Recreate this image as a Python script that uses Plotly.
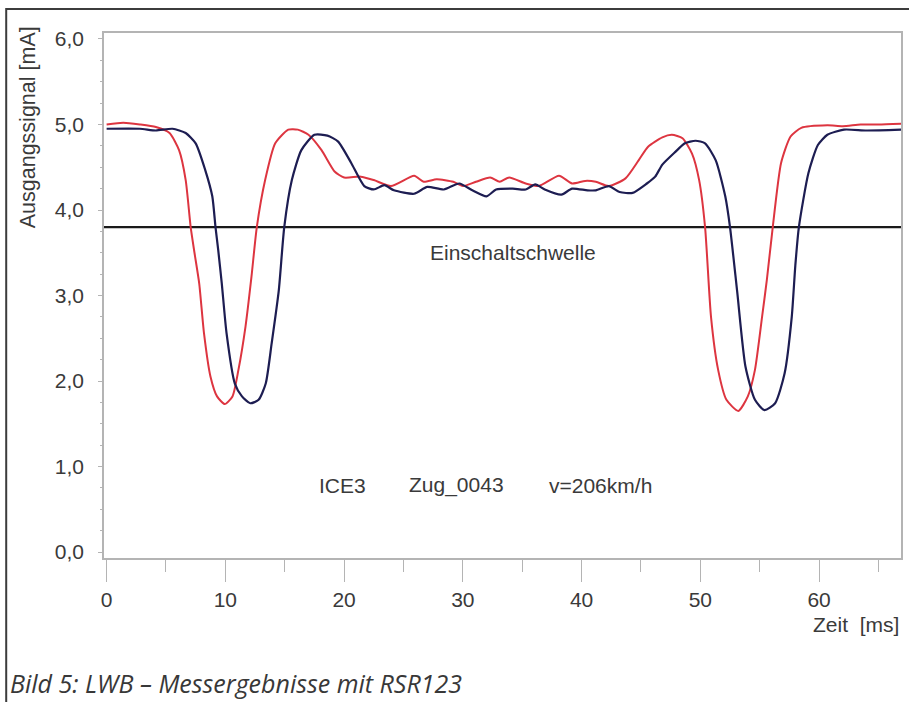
import plotly.graph_objects as go

# Zeit [ms] / Ausgangssignal [mA] – Sensor 1 (rot)
red_t = [0, 1.4, 2.8, 4.15, 5.3, 6.1, 6.66, 7.08, 7.4, 7.8, 8.2, 8.75, 9.3, 9.95, 10.6, 11.1, 11.7,
         12.2, 12.65, 13.35, 14.2, 15.3, 16.1, 17.0, 18.1, 19.2, 20.0, 21.4, 22.5, 23.95, 25.9, 26.7,
         27.8, 29.2, 30.0, 31.1, 32.3, 33.1, 33.9, 35.3, 36.4, 38.1, 39.2, 40.3, 41.2, 42.3, 43.7,
         44.8, 45.6, 46.8, 47.6, 48.5, 49.3, 49.9, 50.4, 50.9, 51.5, 52.2, 53.2, 54.0, 54.6, 55.2,
         55.6, 56.1, 56.8, 57.6, 58.5, 60.7, 62.0, 63.5, 65.0, 66.9]
red_v = [5.00, 5.02, 5.00, 4.97, 4.90, 4.70, 4.35, 3.80, 3.50, 3.14, 2.56, 2.05, 1.82, 1.73, 1.82, 2.13, 2.64,
         3.22, 3.80, 4.35, 4.78, 4.94, 4.94, 4.88, 4.70, 4.45, 4.38, 4.39, 4.35, 4.28, 4.40, 4.33,
         4.36, 4.33, 4.28, 4.33, 4.38, 4.33, 4.38, 4.31, 4.28, 4.40, 4.31, 4.34, 4.33, 4.28, 4.37,
         4.58, 4.74, 4.85, 4.88, 4.84, 4.66, 4.35, 3.80, 2.75, 2.13, 1.78, 1.65, 1.82, 2.13, 2.75,
         3.18, 3.80, 4.55, 4.86, 4.96, 4.99, 4.98, 5.00, 5.00, 5.01]

# Sensor 2 (blau)
blue_t = [0, 2.8, 4.15, 5.55, 6.66, 7.5, 8.3, 8.9, 9.17, 9.4, 9.7, 10.1, 10.8, 11.4, 12.1, 12.8, 13.4,
          13.9, 14.5, 14.96, 15.6, 16.4, 17.5, 18.6, 19.5, 20.6, 21.7, 22.5, 23.4, 24.2, 25.9, 27.0,
          28.4, 29.7, 30.8, 32.0, 32.8, 34.2, 35.3, 36.1, 36.9, 38.3, 39.2, 40.5, 41.2, 42.3, 43.2,
          44.3, 45.5, 46.2, 46.8, 47.9, 48.7, 49.6, 50.4, 51.3, 52.1, 52.5, 53.1, 53.8, 54.6, 55.4,
          56.3, 57.1, 57.7, 58.0, 58.3, 59.1, 59.9, 60.7, 62.1, 64.0, 66.9]
blue_v = [4.95, 4.95, 4.93, 4.95, 4.90, 4.78, 4.47, 4.16, 3.80, 3.53, 3.14, 2.56, 1.97, 1.82, 1.74, 1.78, 1.97,
          2.44, 3.06, 3.80, 4.35, 4.70, 4.88, 4.87, 4.80, 4.55, 4.28, 4.24, 4.29, 4.23, 4.19, 4.27,
          4.24, 4.31, 4.23, 4.16, 4.24, 4.25, 4.24, 4.30, 4.24, 4.18, 4.25, 4.23, 4.23, 4.28, 4.21,
          4.20, 4.31, 4.39, 4.53, 4.68, 4.78, 4.81, 4.78, 4.58, 4.16, 3.80, 3.05, 2.17, 1.78, 1.66,
          1.74, 2.09, 2.75, 3.35, 3.80, 4.43, 4.76, 4.88, 4.94, 4.93, 4.94]

threshold = 3.8
threshold_label = "Einschaltschwelle"
info_labels = ["ICE3", "Zug_0043", "v=206km/h"]
info_x = [19.9, 29.5, 41.6]
info_y = 0.78

x_ticks = [0, 10, 20, 30, 40, 50, 60]
y_ticks = [0, 1, 2, 3, 4, 5, 6]
y_ticklabels = ["0,0", "1,0", "2,0", "3,0", "4,0", "5,0", "6,0"]

RED = "#dd3540"
BLUE = "#1d1d52"
TXT = "#3a3a3a"
AX = "#b4b4b4"
FONT = "Liberation Sans, Arial, sans-serif"
FS = 21

fig = go.Figure()
fig.add_trace(go.Scatter(x=red_t, y=red_v, mode="lines",
                         line=dict(color=RED, width=2, shape="spline", smoothing=0.6),
                         showlegend=False, hoverinfo="skip"))
fig.add_trace(go.Scatter(x=blue_t, y=blue_v, mode="lines",
                         line=dict(color=BLUE, width=2.2, shape="spline", smoothing=0.6),
                         showlegend=False, hoverinfo="skip"))

# threshold line
fig.add_shape(type="line", xref="paper", x0=0, x1=1, yref="y", y0=threshold, y1=threshold,
              line=dict(color="#1a1a1a", width=2.2), layer="below")

fig.add_annotation(x=34.2, y=3.50, xref="x", yref="y", text=threshold_label,
                   showarrow=False, font=dict(family=FONT, size=FS, color=TXT))
for lab, lx in zip(info_labels, info_x):
    fig.add_annotation(x=lx, y=info_y, xref="x", yref="y", text=lab, showarrow=False,
                       font=dict(family=FONT, size=FS, color=TXT))

# axis titles
fig.add_annotation(x=1.0, y=-0.1276, xref="paper", yref="paper", xanchor="right", yanchor="middle",
                   text="Zeit&nbsp;&nbsp;[ms]", showarrow=False,
                   font=dict(family=FONT, size=FS, color=TXT))
fig.add_annotation(x=-0.095, y=0.821, xref="paper", yref="paper", textangle=-90,
                   xanchor="center", yanchor="middle", text="Ausgangssignal [mA]", showarrow=False,
                   font=dict(family=FONT, size=21.5, color=TXT))

# caption
fig.add_annotation(x=-0.121, y=-0.238, xref="paper", yref="paper", xanchor="left", yanchor="middle",
                   text="<i>Bild 5: LWB – Messergebnisse mit RSR123</i>", showarrow=False,
                   font=dict(family="Open Sans, Lato, sans-serif", size=25, color="#383838"))

# outer frame (left and top edges)
fig.add_shape(type="path", xref="paper", yref="paper",
              path="M -0.1227,-0.30 L -0.1227,1.0457 L 1.02,1.0457",
              line=dict(color="#3c3c3c", width=2))

fig.update_layout(
    width=909, height=702,
    margin=dict(l=104, r=6, t=33, b=144),
    paper_bgcolor="white", plot_bgcolor="white",
    font=dict(family=FONT, size=FS, color=TXT),
    xaxis=dict(range=[-0.22, 66.9], tickvals=x_ticks, showgrid=False, zeroline=False,
               showline=True, linecolor=AX, linewidth=1.5, mirror=True,
               ticks="outside", ticklen=22, tickcolor=AX, tickwidth=1.3,
               minor=dict(dtick=5, tick0=0, ticks="outside", ticklen=12, tickcolor=AX, tickwidth=1.3),
               tickfont=dict(family=FONT, size=FS, color=TXT)),
    yaxis=dict(range=[-0.07, 6.07], tickvals=y_ticks, ticktext=y_ticklabels, showgrid=False,
               zeroline=False, showline=True, linecolor=AX, linewidth=1.5, mirror=True,
               ticks="outside", ticklen=4, tickcolor=AX, tickwidth=1.2,
               minor=dict(dtick=0.25, tick0=0, ticks="outside", ticklen=2, tickcolor=AX),
               ticklabelstandoff=10,
               tickfont=dict(family=FONT, size=FS, color=TXT)),
)

fig.write_html("out.html", config={"displayModeBar": False},
               post_script="document.body.style.margin='0px';")
